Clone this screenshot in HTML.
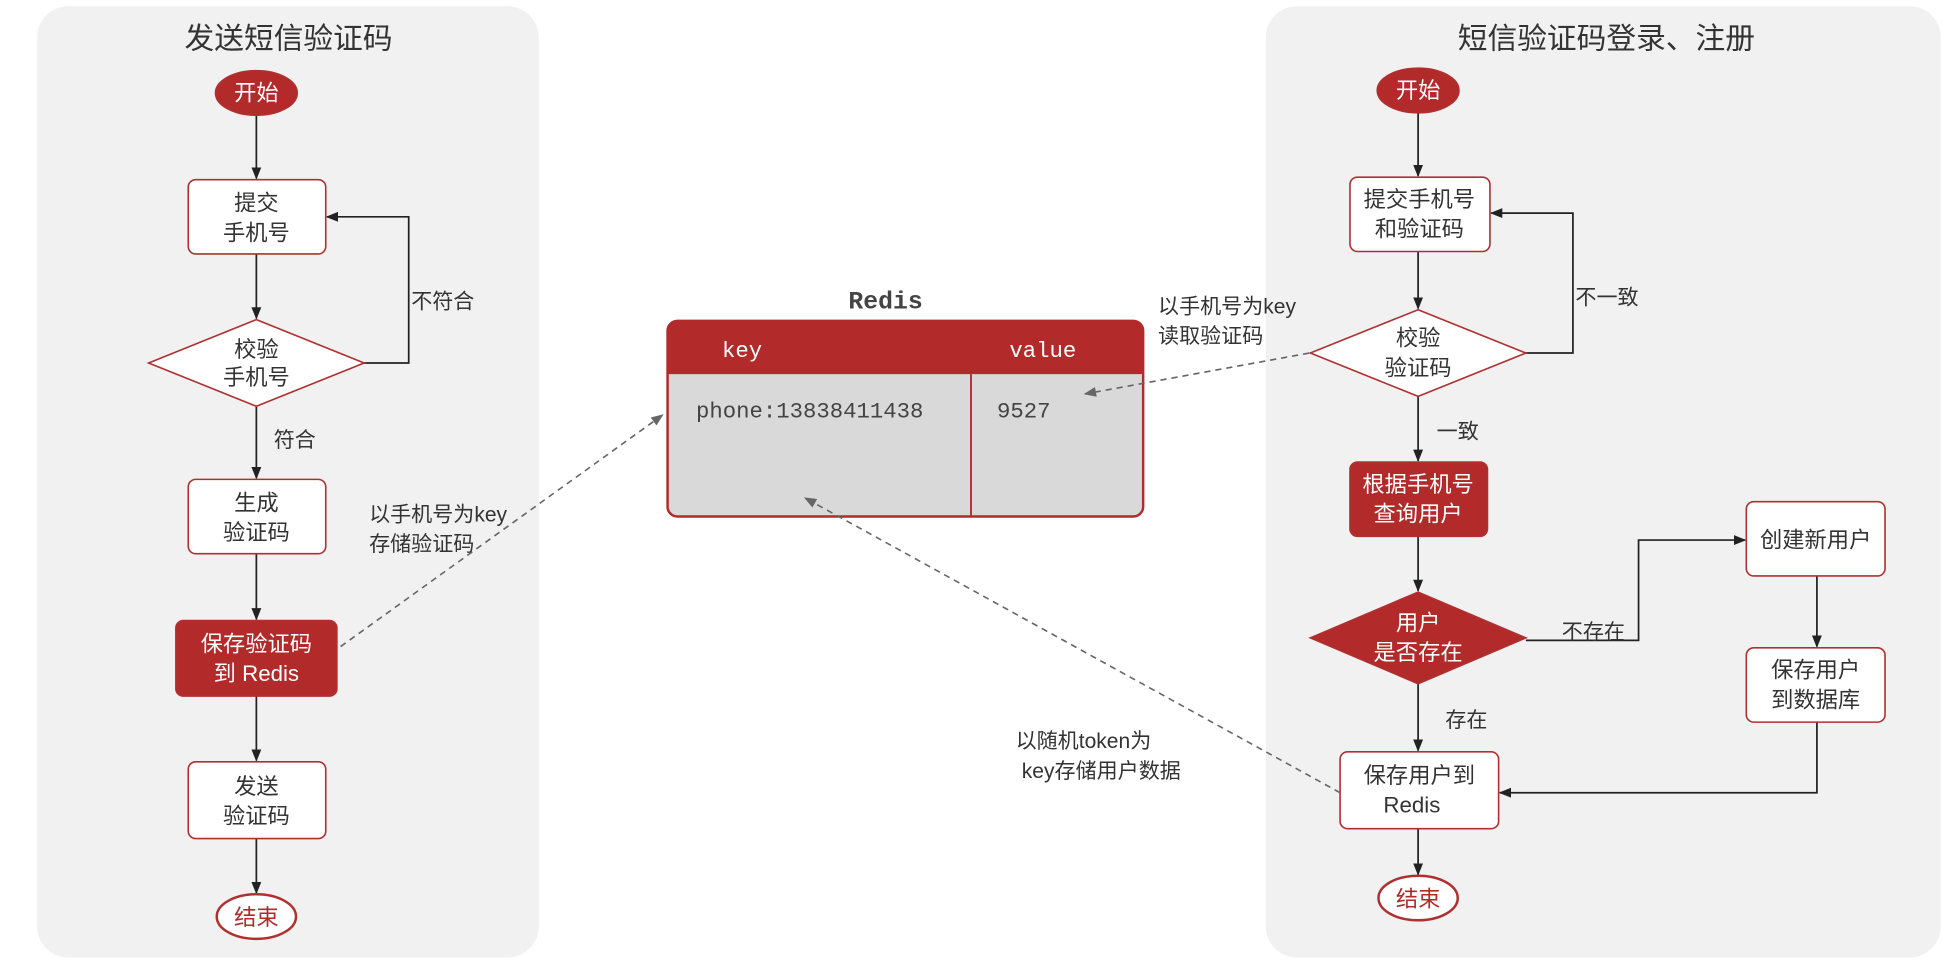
<!DOCTYPE html>
<html><head><meta charset="utf-8"><style>
html,body{margin:0;padding:0;background:#fff;}
svg{display:block;}
text{font-family:"Liberation Sans","Noto Sans CJK SC",sans-serif;}
.m text, text.m{font-family:"Liberation Mono","Noto Sans CJK SC",monospace;}
</style></head><body>
<svg width="1942" height="960" viewBox="0 0 1568 775" xmlns="http://www.w3.org/2000/svg">
<defs>
<marker id="a" markerWidth="10" markerHeight="10" refX="9" refY="5" orient="auto" markerUnits="userSpaceOnUse"><path d="M0,1 L10,5 L0,9 z" fill="#222"/></marker>
<marker id="g" markerWidth="10" markerHeight="10" refX="9" refY="5" orient="auto" markerUnits="userSpaceOnUse"><path d="M0,1 L10,5 L0,9 z" fill="#666"/></marker>
</defs>
<rect width="1568" height="775" fill="#fff"/>
<rect x="30" y="5" width="405" height="768" rx="25" fill="#f1f1f1"/>
<rect x="1022" y="5" width="545" height="768" rx="25" fill="#f1f1f1"/>
<g font-size="24" fill="#333" text-anchor="middle">
<text x="233" y="39">发送短信验证码</text>
<text x="1297" y="39">短信验证码登录、注册</text>
</g>
<g stroke="#222" stroke-width="1.4" fill="none" marker-end="url(#a)">
<line x1="207" y1="93" x2="207" y2="144"/>
<line x1="207" y1="205" x2="207" y2="257"/>
<line x1="207" y1="328" x2="207" y2="386"/>
<line x1="207" y1="447" x2="207" y2="500"/>
<line x1="207" y1="562" x2="207" y2="614"/>
<line x1="207" y1="677" x2="207" y2="721"/>
<polyline points="294,293 330,293 330,175 264,175"/>
<line x1="1145" y1="91" x2="1145" y2="142"/>
<line x1="1145" y1="203" x2="1145" y2="249"/>
<line x1="1145" y1="320" x2="1145" y2="372"/>
<line x1="1145" y1="433" x2="1145" y2="477"/>
<line x1="1145" y1="552" x2="1145" y2="606"/>
<line x1="1145" y1="669" x2="1145" y2="706"/>
<polyline points="1232,285 1270,285 1270,172 1204,172"/>
<polyline points="1232,517 1323,517 1323,436 1409,436"/>
<line x1="1467" y1="465" x2="1467" y2="522"/>
<polyline points="1467,583 1467,640 1211,640"/>
</g>
<g stroke="#b03030" stroke-width="1.3">
<ellipse cx="207" cy="75" rx="33" ry="18" fill="#b22a2a"/>
<rect x="152" y="145" width="111" height="60" rx="6" fill="#fff"/>
<polygon points="120,293 207,258 294,293 207,328" fill="#fff"/>
<rect x="152" y="387" width="111" height="60" rx="6" fill="#fff"/>
<rect x="142" y="501" width="130" height="61" rx="6" fill="#b22a2a"/>
<rect x="152" y="615" width="111" height="62" rx="6" fill="#fff"/>
<ellipse cx="207" cy="740" rx="32" ry="18" fill="#fff" stroke-width="2"/>
<ellipse cx="1145" cy="73" rx="33" ry="18" fill="#b22a2a"/>
<rect x="1090" y="143" width="113" height="60" rx="6" fill="#fff"/>
<polygon points="1058,285 1145,250 1232,285 1145,320" fill="#fff"/>
<rect x="1090" y="373" width="111" height="60" rx="6" fill="#b22a2a"/>
<polygon points="1058,515 1145,478 1232,515 1145,552" fill="#b22a2a"/>
<rect x="1410" y="405" width="112" height="60" rx="6" fill="#fff"/>
<rect x="1410" y="523" width="112" height="60" rx="6" fill="#fff"/>
<rect x="1082" y="607" width="128" height="62" rx="6" fill="#fff"/>
<ellipse cx="1145" cy="725" rx="32" ry="18" fill="#fff" stroke-width="2"/>
</g>
<g font-size="18" text-anchor="middle" fill="#333">
<text x="207" y="81" fill="#fff">开始</text>
<text x="207" y="170">提交</text><text x="207" y="194">手机号</text>
<text x="207" y="288">校验</text><text x="207" y="311">手机号</text>
<text x="207" y="412">生成</text><text x="207" y="436">验证码</text>
<text x="207" y="526" fill="#fff">保存验证码</text><text x="207" y="550" fill="#fff">到 Redis</text>
<text x="207" y="641">发送</text><text x="207" y="665">验证码</text>
<text x="207" y="747" fill="#b22a2a">结束</text>
<text x="1145" y="79" fill="#fff">开始</text>
<text x="1146" y="167">提交手机号</text><text x="1146" y="191">和验证码</text>
<text x="1145" y="279">校验</text><text x="1145" y="303">验证码</text>
<text x="1145" y="397" fill="#fff">根据手机号</text><text x="1145" y="421" fill="#fff">查询用户</text>
<text x="1145" y="509" fill="#fff">用户</text><text x="1145" y="533" fill="#fff">是否存在</text>
<text x="1466" y="442">创建新用户</text>
<text x="1466" y="547">保存用户</text><text x="1466" y="571">到数据库</text>
<text x="1146" y="632">保存用户到</text><text x="1140" y="656">Redis</text>
<text x="1145" y="732" fill="#b22a2a">结束</text>
</g>
<g font-size="17" fill="#333">
<text x="332" y="249">不符合</text>
<text x="221" y="361">符合</text>
<text x="298" y="421">以手机号为key</text><text x="298" y="445">存储验证码</text>
<text x="1272" y="246">不一致</text>
<text x="935" y="253">以手机号为key</text><text x="935" y="277">读取验证码</text>
<text x="1160" y="354">一致</text>
<text x="1261" y="516">不存在</text>
<text x="1167" y="587">存在</text>
<text x="820" y="604">以随机token为</text><text x="825" y="628">key存储用户数据</text>
</g>
<text x="715" y="249" font-size="20" font-weight="bold" fill="#444" text-anchor="middle" class="m">Redis</text>
<rect x="539" y="259" width="384" height="158" rx="8" fill="#d9d9d9" stroke="#b22a2a" stroke-width="2"/>
<path d="M539,302 L539,267 Q539,259 547,259 L915,259 Q923,259 923,267 L923,302 Z" fill="#b22a2a"/>
<line x1="784" y1="302" x2="784" y2="417" stroke="#b22a2a" stroke-width="1.5"/>
<g class="m" font-size="18">
<text x="583" y="288" fill="#fff">key</text>
<text x="815" y="288" fill="#fff">value</text>
<text x="562" y="337" fill="#444">phone:13838411438</text>
<text x="805" y="337" fill="#444">9527</text>
</g>
<g stroke="#666" stroke-width="1.3" fill="none" stroke-dasharray="5,4" marker-end="url(#g)">
<line x1="275" y1="522" x2="535" y2="335"/>
<line x1="1057" y1="285" x2="876" y2="318"/>
<line x1="1082" y1="640" x2="650" y2="402"/>
</g>
</svg>
</body></html>
